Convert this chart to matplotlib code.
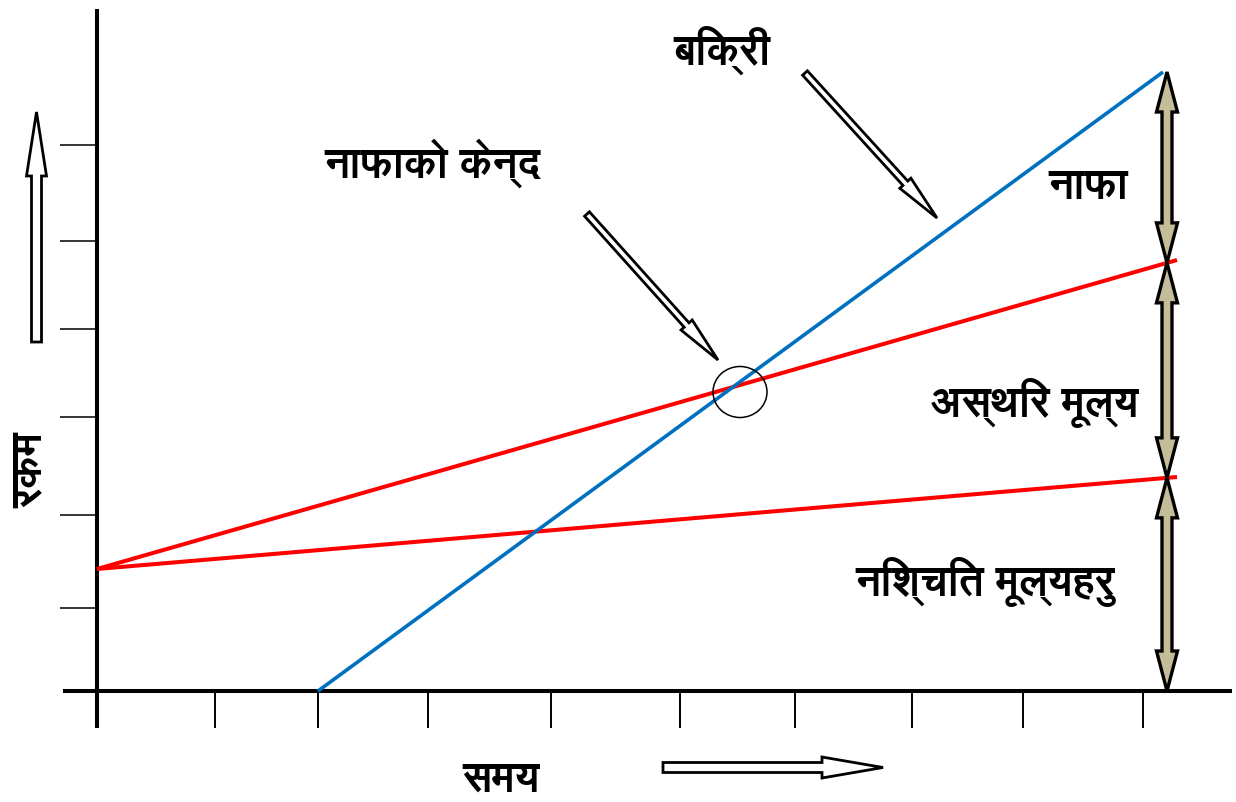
"""
Break-even chart (Nepali labels): fixed cost, total cost and sales lines.
"""

import os

import matplotlib
matplotlib.use("Agg")
import matplotlib.pyplot as plt
import numpy as np
from matplotlib import font_manager
from matplotlib.ft2font import FT2Font
from matplotlib.patches import Ellipse, FancyArrow, Polygon

# ---- data (x = time, y = amount) ----
x_ticks = [0, 1.18, 2.21, 3.31, 4.54, 5.83, 6.98, 8.15, 9.26, 10.46]
y_ticks = [0.83, 1.76, 2.74, 3.62, 4.50, 5.46]

fixed_x = [0, 10.80]
fixed_y = [1.22, 2.14]
total_x = [0, 10.80]
total_y = [1.22, 4.31]
sales_x = [2.21, 10.66]
sales_y = [0, 6.19]

break_even = (6.43, 2.99)
bracket_x = 10.70

labels = {
    "sales": "बिक्री",
    "break_even": "नाफाको केन्द",
    "profit": "नाफा",
    "variable": "अस्थिर मूल्य",
    "fixed": "निश्चित मूल्यहरु",
    "ylabel": "रकम",
    "xlabel": "समय",
}


def devanagari_font():
    preferred = ["/usr/share/fonts/truetype/freefont/FreeSansBold.ttf",
                 "/usr/share/fonts/truetype/google-fonts/Amiko-Bold.ttf"]
    for path in preferred:
        if os.path.exists(path):
            return path
    for path in font_manager.findSystemFonts():
        try:
            if 0x0928 in FT2Font(path).get_charmap():
                return path
        except Exception:
            continue
    return None


font_path = devanagari_font()
if font_path:
    label_font = font_manager.FontProperties(fname=font_path, size=30)
else:
    label_font = font_manager.FontProperties(family="DejaVu Sans", weight="bold", size=30)

fig = plt.figure(figsize=(12.36, 8.02), dpi=100)
ax = fig.add_axes([0, 0, 1, 1])
ax.set_xlim(-0.97, 11.39)
ax.set_ylim(-1.11, 6.91)

# axes lines through the origin
for side in ("top", "right"):
    ax.spines[side].set_visible(False)
ax.spines["left"].set_position(("data", 0))
ax.spines["bottom"].set_position(("data", 0))
ax.spines["left"].set_bounds(-0.37, 6.82)
ax.spines["bottom"].set_bounds(-0.34, 11.35)
for side in ("left", "bottom"):
    ax.spines[side].set_linewidth(2.9)
    ax.spines[side].set_capstyle("butt")

ax.set_xticks(x_ticks)
ax.set_yticks(y_ticks)
ax.tick_params(axis="x", direction="out", length=26.6, width=1.4, labelbottom=False)
ax.tick_params(axis="y", direction="out", length=26.6, width=1.1, labelleft=False)

# lines
ax.plot(fixed_x, fixed_y, color="#ff0000", lw=2.9, solid_capstyle="butt", zorder=3)
ax.plot(total_x, total_y, color="#ff0000", lw=2.9, solid_capstyle="butt", zorder=3)
ax.plot(sales_x, sales_y, color="#0070c0", lw=2.6, solid_capstyle="butt", zorder=3)

ax.add_patch(Ellipse(break_even, 0.54, 0.51, fill=False, ec="black", lw=1.1, zorder=4))


# double arrows on the right: fixed / variable / profit
def double_arrow(x, y0, y1, w=0.05, hw=0.105, hl=0.40):
    pts = [(x, y0), (x + hw, y0 + hl), (x + w, y0 + hl), (x + w, y1 - hl),
           (x + hw, y1 - hl), (x, y1), (x - hw, y1 - hl), (x - w, y1 - hl),
           (x - w, y0 + hl), (x - hw, y0 + hl)]
    ax.add_patch(Polygon(pts, closed=True, fc="#c4bd97", ec="black", lw=2.4,
                         joinstyle="miter", zorder=5))


levels = [0,
          np.interp(bracket_x, fixed_x, fixed_y),
          np.interp(bracket_x, total_x, total_y),
          np.interp(bracket_x, sales_x, sales_y)]
for lo, hi in zip(levels[:-1], levels[1:]):
    double_arrow(bracket_x, lo, hi)


# hollow pointer arrows
def hollow_arrow(x0, y0, x1, y1, width, head_width, head_length, lw=2.0):
    ax.add_patch(FancyArrow(x0, y0, x1 - x0, y1 - y0, width=width,
                            head_width=head_width, head_length=head_length,
                            length_includes_head=True, fc="white", ec="black",
                            lw=lw, zorder=5))


hollow_arrow(-0.605, 3.49, -0.605, 5.79, 0.10, 0.20, 0.64)   # amount axis
hollow_arrow(5.66, -0.765, 7.86, -0.765, 0.10, 0.21, 0.61)   # time axis
hollow_arrow(4.90, 4.77, 6.21, 3.31, 0.065, 0.15, 0.47)      # break-even
hollow_arrow(7.08, 6.18, 8.40, 4.73, 0.065, 0.15, 0.47)      # sales

# labels
txt = dict(fontproperties=label_font, ha="center", va="center")
ax.text(6.25, 6.41, labels["sales"], **txt)
ax.text(3.35, 5.28, labels["break_even"], **txt)
ax.text(9.91, 5.04, labels["profit"], **txt)
ax.text(9.38, 2.88, labels["variable"], **txt)
ax.text(8.88, 1.09, labels["fixed"], **txt)
ax.text(-0.67, 2.21, labels["ylabel"], rotation=90, **txt)
ax.text(4.04, -0.89, labels["xlabel"], **txt)

fig.savefig("out.png", dpi=100)
